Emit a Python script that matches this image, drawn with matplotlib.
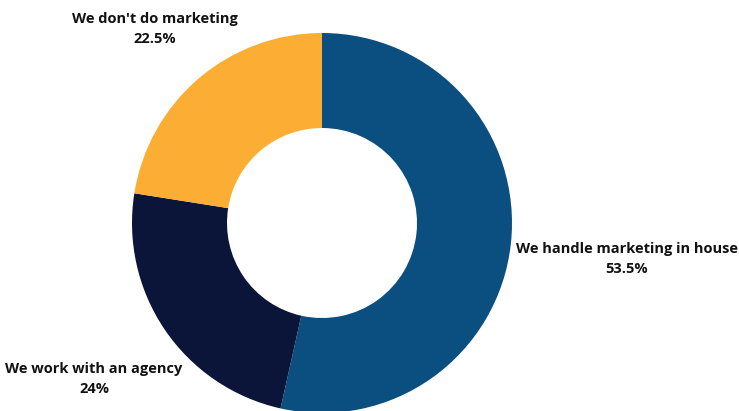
import matplotlib
matplotlib.use("Agg")
import matplotlib.pyplot as plt

# Survey answers: how marketing is handled
categories = ["We handle marketing in house", "We work with an agency", "We don't do marketing"]
shares = [53.5, 24, 22.5]
colors = ["#0B4F80", "#0B1439", "#FBAE33"]

W, H = 739, 411
fig = plt.figure(figsize=(W / 100, H / 100), dpi=100)
fig.patch.set_facecolor("white")

# donut centred at pixel (322, 223), outer radius 190 px
cx, cy, r = 322, 223, 190
ax = fig.add_axes([(cx - r) / W, (H - cy - r) / H, 2 * r / W, 2 * r / H])
ax.pie(shares, colors=colors, startangle=90, counterclock=False,
       radius=1.0, wedgeprops=dict(width=0.5, linewidth=0))
ax.set_xlim(-1, 1)
ax.set_ylim(-1, 1)
ax.set_aspect("equal")
ax.axis("off")

# label anchor points in pixels (centre of the two-line block)
label_pos = [(627, 259), (94, 379), (155, 29)]
for name, val, (px, py) in zip(categories, shares, label_pos):
    fig.text(px / W, 1 - py / H, f"{name}\n{val:g}%", ha="center", va="center",
             multialignment="center", fontsize=10.5, fontweight="bold",
             family="Open Sans", color="#111111", linespacing=1.55)

fig.savefig("out.png", dpi=100, facecolor="white")
